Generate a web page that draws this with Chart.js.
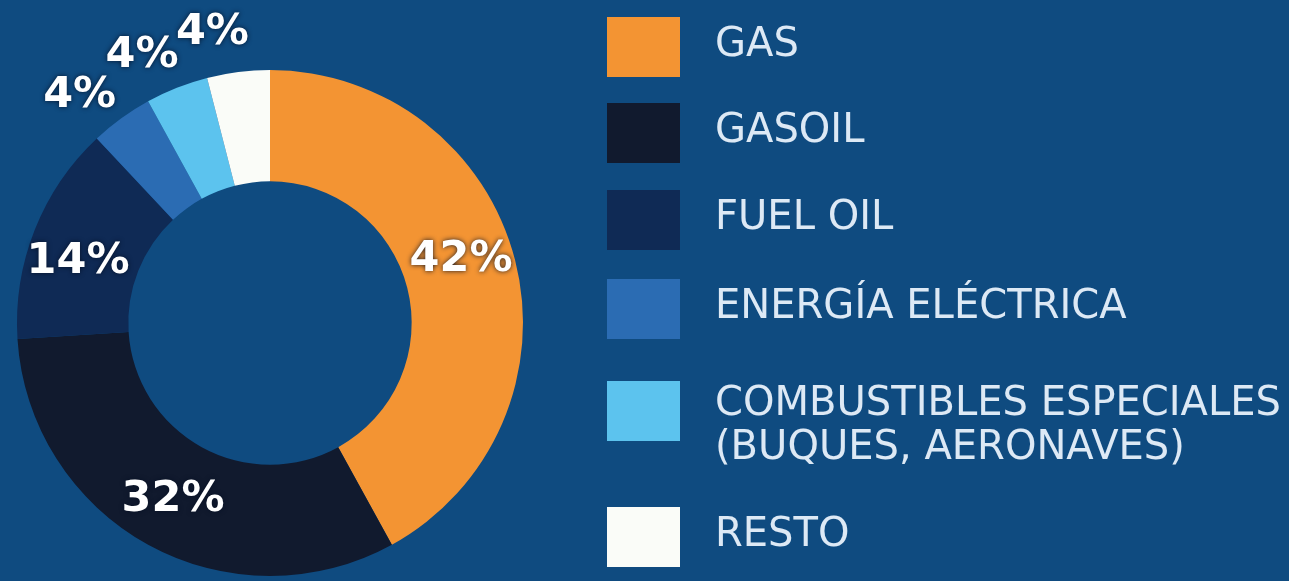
<!DOCTYPE html>
<html>
<head>
<meta charset="utf-8">
<script src="https://cdn.jsdelivr.net/npm/chart.js@4/dist/chart.umd.min.js"></script>
<style>
  html, body { margin: 0; padding: 0; background: #0f4b80; }
  #wrap { width: 1289px; height: 581px; position: relative; }
</style>
</head>
<body>
<div id="wrap"><canvas id="consumo"></canvas></div>
<script>
// consumo por tipo de combustible (%)
const categorias = ['GAS', 'GASOIL', 'FUEL OIL', 'ENERGÍA ELÉCTRICA',
                    ['COMBUSTIBLES ESPECIALES', '(BUQUES, AERONAVES)'], 'RESTO'];
const porcentajes = [42, 32, 14, 4, 4, 4];
const colores = ['#f39433', '#111a2e', '#0f2a55', '#2b6cb3', '#5cc3ee', '#fafcf8'];

// top edge of each legend swatch
const legendTops = [17, 103, 190, 279, 381, 507];

const pctLabels = {
    id: 'pctLabels',
    afterDatasetsDraw(chart) {
        const ctx = chart.ctx;
        const meta = chart.getDatasetMeta(0);
        ctx.save();
        ctx.font = 'bold 43px "DejaVu Sans"';
        ctx.textAlign = 'center';
        ctx.textBaseline = 'middle';
        ctx.fillStyle = '#ffffff';
        ctx.shadowColor = 'rgba(5, 15, 35, 0.9)';
        ctx.shadowBlur = 5;
        meta.data.forEach((arc, i) => {
            const p = arc.getProps(['x', 'y', 'startAngle', 'endAngle', 'innerRadius', 'outerRadius'], true);
            const v = porcentajes[i];
            let mid = (p.startAngle + p.endAngle) / 2;
            // labels on the upper half sit a touch counter-clockwise
            if (Math.sin(mid) < 0) mid -= 0.07;
            const r = v >= 10 ? (p.innerRadius + p.outerRadius) / 2 + 4 : p.outerRadius + 43;
            ctx.fillText(v + '%', p.x + Math.cos(mid) * r, p.y + Math.sin(mid) * r);
        });
        ctx.restore();
    }
};

const sideLegend = {
    id: 'sideLegend',
    afterDraw(chart) {
        const ctx = chart.ctx;
        ctx.save();
        ctx.font = '40px "DejaVu Sans"';
        ctx.textBaseline = 'middle';
        const sx = 566 / ctx.measureText('COMBUSTIBLES ESPECIALES').width;
        categorias.forEach((cat, i) => {
            const top = legendTops[i];
            ctx.fillStyle = colores[i];
            ctx.fillRect(607, top, 73, 60);
            ctx.fillStyle = '#dde9f5';
            const lines = Array.isArray(cat) ? cat : [cat];
            const y0 = lines.length > 1 ? top + 24 : top + 29;
            lines.forEach((t, j) => {
                ctx.save();
                ctx.translate(715, y0 + j * 44);
                ctx.scale(sx, 1);
                ctx.fillText(t, 0, 0);
                ctx.restore();
            });
        });
        ctx.restore();
    }
};

new Chart(document.getElementById('consumo'), {
    type: 'doughnut',
    data: {
        labels: categorias.map(c => Array.isArray(c) ? c.join(' ') : c),
        datasets: [{
            data: porcentajes,
            backgroundColor: colores,
            borderWidth: 0
        }]
    },
    options: {
        responsive: true,
        maintainAspectRatio: false,
        animation: false,
        cutout: '56%',
        layout: { padding: { left: 17, right: 766, top: 70, bottom: 5 } },
        plugins: {
            legend: { display: false },
            tooltip: { enabled: false }
        }
    },
    plugins: [pctLabels, sideLegend]
});
</script>
</body>
</html>
